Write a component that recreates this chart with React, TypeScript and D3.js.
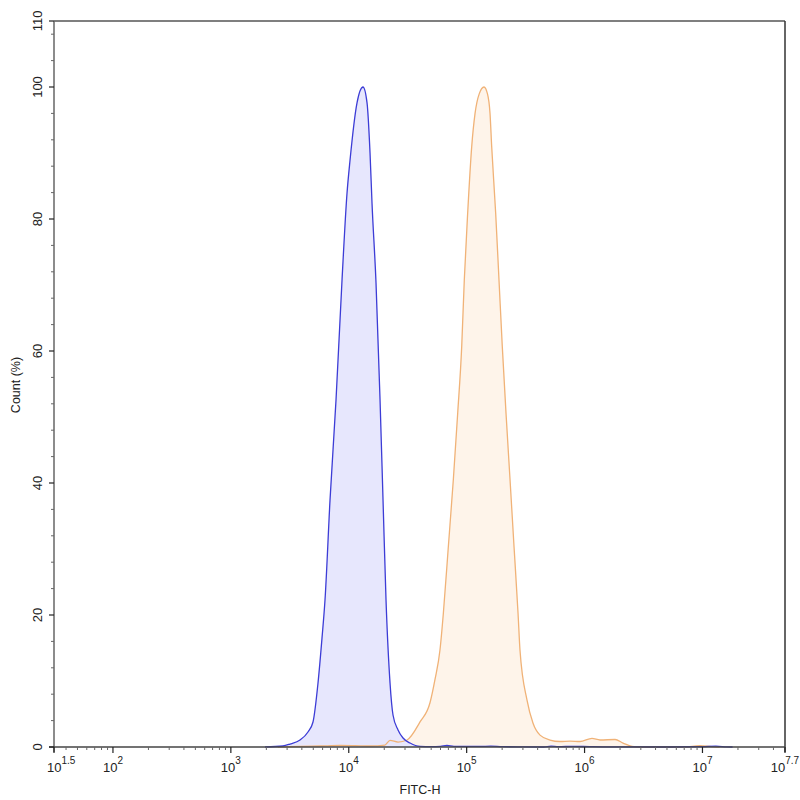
import React from "react";
import * as d3 from "d3";

// Blue histogram (FITC-H value, Count %)
const blueX = [1950, 2767, 3177, 3862, 4510, 4974, 5485, 5930, 6290, 6935, 7798, 8770, 9665, 10250, 11750, 13210, 14290, 15150, 15750, 17030, 18420, 19530, 20700, 22390, 23730, 26170, 28850, 33110, 40220, 50000, 60000, 68100, 78000, 100000, 130000, 160000, 200000, 300000, 450000, 520000, 600000, 800000, 1100000, 1500000, 2500000, 5000000, 10000000, 13000000, 16000000, 18000000];
const blueY = [0, 0.15, 0.45, 1.06, 2.27, 3.79, 9.7, 16.5, 22.3, 37.4, 52.6, 70.8, 83.9, 88.9, 97.6, 100, 97.6, 90, 82.4, 70.3, 52.6, 37.4, 22.3, 9.7, 4.85, 2.58, 1.36, 0.6, 0.08, 0.05, 0.1, 0.23, 0.1, 0.1, 0.08, 0.12, 0.05, 0.02, 0.0, 0.12, 0.05, 0.1, 0.05, 0.02, 0.02, 0.0, 0.05, 0.12, 0.03, 0];

// Orange histogram
const orangeX = [2500, 3862, 5700, 8430, 11300, 15150, 20280, 22390, 26170, 31200, 40220, 48870, 53830, 59380, 63390, 69880, 77070, 83960, 90800, 95500, 102000, 110400, 117800, 128000, 140300, 150000, 157800, 163000, 176200, 188000, 200500, 215600, 233300, 252300, 272900, 283300, 325000, 365600, 419000, 509000, 619000, 753000, 915000, 1156000, 1352000, 1813000, 2120000, 2530000, 2954000, 7000000, 9530000, 12000000, 14000000];
const orangeY = [0, 0.08, 0.15, 0.23, 0.2, 0.15, 0.3, 1.0, 0.75, 1.06, 3.8, 6.7, 10.2, 14.7, 20.2, 30.3, 40.5, 50.6, 60.7, 70.8, 80.9, 91, 96, 99, 100, 99, 96, 91, 80.9, 70.8, 60.7, 50.6, 40.5, 30.3, 20.2, 14.7, 7.1, 3.6, 1.8, 1.06, 0.83, 0.9, 0.83, 1.3, 1.06, 1.14, 0.6, 0.08, 0, 0.02, 0.2, 0.05, 0];

const xExponents = [1.5, 2, 3, 4, 5, 6, 7, 7.7];
const yMajor = [0, 20, 40, 60, 80, 100, 110];

const W = 800, H = 800;
const L = 54, R = 785, T = 21, B = 747;

export default function App() {
  const x = d3.scaleLog().domain([Math.pow(10, 1.5), Math.pow(10, 7.7)]).range([L, R]);
  const y = d3.scaleLinear().domain([0, 110]).range([B, T]);

  const mk = (xs: number[], ys: number[]) => xs.map((v, i) => [v, ys[i]] as [number, number]);
  const area = d3.area<[number, number]>().x(d => x(d[0])).y0(y(0)).y1(d => y(d[1])).curve(d3.curveMonotoneX);
  const line = d3.line<[number, number]>().x(d => x(d[0])).y(d => y(d[1])).curve(d3.curveMonotoneX);
  const blue = mk(blueX, blueY);
  const orange = mk(orangeX, orangeY);

  const minorX: number[] = [];
  for (let dec = 1; dec <= 7; dec++) {
    for (let m = 2; m <= 9; m++) {
      const v = m * Math.pow(10, dec);
      if (v > x.domain()[0] && v < x.domain()[1]) minorX.push(v);
    }
  }
  const minorY: number[] = [];
  for (let v = 4; v < 110; v += 4) if (v % 20 !== 0) minorY.push(v);

  const axisColor = "#444";
  const font = "'Liberation Sans', Arial, sans-serif";

  return (
    <svg width={W} height={H} style={{ position: "absolute", left: 0, top: 0, background: "#fff" }} fontFamily={font}>
      <rect x={0} y={0} width={W} height={H} fill="#fff" />
      <path d={area(orange) || ""} fill="#fef4ea" />
      <path d={area(blue) || ""} fill="#e7e7fd" />
      <path d={line(orange) || ""} fill="none" stroke="#f0b277" strokeWidth={1.3} />
      <path d={line(blue) || ""} fill="none" stroke="#3c3cd6" strokeWidth={1.3} />

      {/* frame */}
      <line x1={L} y1={T} x2={R} y2={T} stroke="#555" strokeWidth={1.5} />
      <line x1={R} y1={T} x2={R} y2={B + 5} stroke="#333" strokeWidth={1.5} />
      <line x1={L} y1={T} x2={L} y2={B + 5} stroke="#666" strokeWidth={1.5} />
      <line x1={L - 5} y1={B} x2={R} y2={B} stroke={axisColor} strokeWidth={1.5} />

      {/* x ticks */}
      {minorX.map((v, i) => (
        <line key={"mx" + i} x1={x(v)} x2={x(v)} y1={B} y2={B + 3} stroke="#666" strokeWidth={1} />
      ))}
      {xExponents.map((e, i) => {
        const px = x(Math.pow(10, e));
        const first = i === 0;
        return (
          <g key={"x" + i}>
            <line x1={px} x2={px} y1={B} y2={B + 6} stroke="#222" strokeWidth={1.2} />
            <text x={first ? px - 7 : px} y={772} textAnchor={first ? "start" : "middle"} fontSize={13} fill="#222">
              10<tspan fontSize={10} dy={-8}>{String(e)}</tspan>
            </text>
          </g>
        );
      })}

      {/* y ticks */}
      {minorY.map((v, i) => (
        <line key={"my" + i} x1={L - 3} x2={L} y1={y(v)} y2={y(v)} stroke="#666" strokeWidth={1} />
      ))}
      {yMajor.map((v, i) => (
        <g key={"y" + i}>
          <line x1={L - 5} x2={L} y1={y(v)} y2={y(v)} stroke="#222" strokeWidth={1.2} />
          <text transform={`translate(42, ${y(v)}) rotate(-90)`} textAnchor="middle" fontSize={13} fill="#222">{v}</text>
        </g>
      ))}

      <text x={420} y={794} textAnchor="middle" fontSize={12.5} fill="#222">FITC-H</text>
      <text transform={`translate(20, 385) rotate(-90)`} textAnchor="middle" fontSize={12.5} fill="#222">Count (%)</text>
    </svg>
  );
}
